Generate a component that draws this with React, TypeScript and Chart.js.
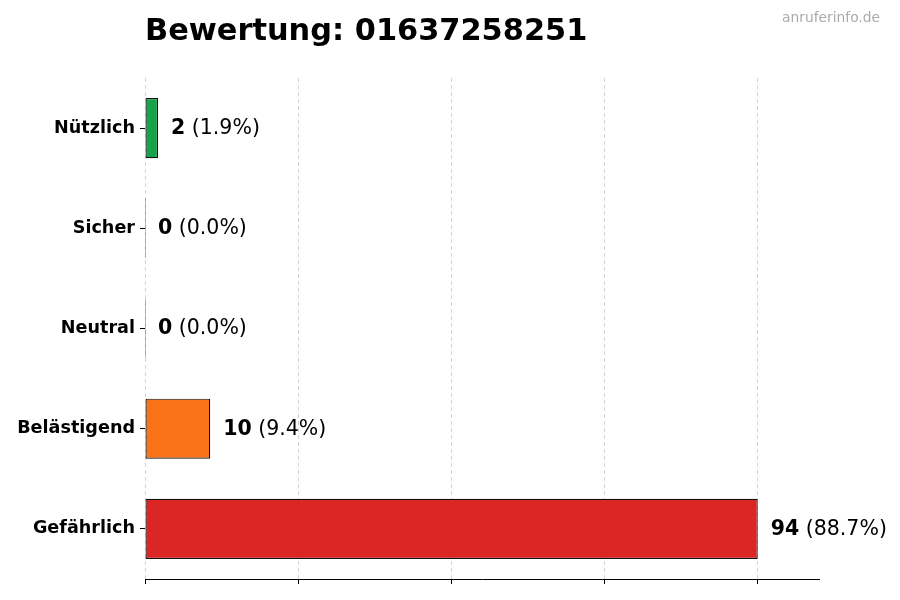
import React, { useEffect, useRef } from "react";
import { Chart, registerables } from "chart.js";

Chart.register(...registerables);

const CATEGORIES = ["Nützlich", "Sicher", "Neutral", "Belästigend", "Gefährlich"];
const COUNTS = [2, 0, 0, 10, 94];
const BAR_COLORS = ["#16a34a", "#222222", "#222222", "#f97316", "#dc2626"];
const X_TICKS = [0, 23.5, 47, 70.5, 94];
const X_MAX = 103.4;
const TITLE = "Bewertung: 01637258251";
const WATERMARK = "anruferinfo.de";

const FONT = "'DejaVu Sans', sans-serif";

export default function App() {
  const ref = useRef<HTMLCanvasElement | null>(null);

  useEffect(() => {
    document.body.style.margin = "0";
    const canvas = ref.current;
    if (!canvas) return;
    const total = COUNTS.reduce((a, b) => a + b, 0);

    const textPlugin = {
      id: "texts",
      afterDatasetsDraw(chart: any) {
        const ctx = chart.ctx;
        const meta = chart.getDatasetMeta(0);
        ctx.save();
        ctx.textBaseline = "middle";
        meta.data.forEach((bar: any, i: number) => {
          const v = COUNTS[i];
          const x = chart.scales.x.getPixelForValue(v) + 13;
          const y = bar.y + 0.5;
          ctx.fillStyle = "#000";
          ctx.font = `bold 20.5px ${FONT}`;
          const s1 = String(v);
          ctx.fillText(s1, x, y);
          const w = ctx.measureText(s1).width;
          ctx.font = `20.5px ${FONT}`;
          const pct = total ? (v / total) * 100 : 0;
          ctx.fillText(` (${pct.toFixed(1)}%)`, x + w, y);
        });
        ctx.restore();
      },
      afterDraw(chart: any) {
        const ctx = chart.ctx;
        ctx.save();
        ctx.textBaseline = "alphabetic";
        ctx.fillStyle = "#000";
        ctx.font = `bold 30.4px ${FONT}`;
        ctx.textAlign = "left";
        ctx.fillText(TITLE, 145, 40);
        ctx.fillStyle = "#aaaaaa";
        ctx.font = `13.8px ${FONT}`;
        ctx.textAlign = "right";
        ctx.fillText(WATERMARK, 880, 22);
        ctx.restore();
      },
    };

    const chart = new Chart(canvas, {
      type: "bar",
      data: {
        labels: CATEGORIES,
        datasets: [
          {
            data: COUNTS,
            backgroundColor: BAR_COLORS,
            borderColor: "#111",
            borderWidth: 1.2,
            borderSkipped: false,
            minBarLength: 1,
            barPercentage: 0.6,
            categoryPercentage: 1,
          },
        ],
      },
      options: {
        indexAxis: "y",
        responsive: false,
        animation: false,
        devicePixelRatio: 1,
        layout: { padding: { left: 0, top: 78, right: 81, bottom: 0 } },
        plugins: {
          legend: { display: false },
          tooltip: { enabled: false },
          title: { display: false },
        },
        scales: {
          x: {
            type: "linear",
            min: 0,
            max: X_MAX,
            afterBuildTicks: (scale: any) => {
              scale.ticks = X_TICKS.map((v) => ({ value: v }));
            },
            afterFit: (scale: any) => {
              scale.height = 21;
            },
            ticks: { callback: () => "", padding: 0 },
            grid: {
              color: "#d4d4d4",
              lineWidth: 1,
              drawTicks: true,
              tickLength: 5,
              tickColor: "#000",
              tickWidth: 1,
            },
            border: { display: true, color: "#000", width: 1, dash: [4, 3] },
          },
          y: {
            type: "category",
            offset: true,
            afterFit: (scale: any) => {
              scale.width = 145;
            },
            ticks: {
              color: "#000",
              padding: 5,
              font: { family: FONT, size: 17.6, weight: "bold" },
            },
            grid: {
              offset: false,
              drawOnChartArea: false,
              drawTicks: true,
              tickLength: 5,
              tickColor: "#000",
              color: "#000",
            },
            border: { display: false },
          },
        },
      },
      plugins: [textPlugin],
    } as any);

    return () => chart.destroy();
  }, []);

  return (
    <div style={{ position: "absolute", left: 0, top: 0, width: 900, height: 600, background: "#fff" }}>
      <canvas ref={ref} width={900} height={600} style={{ width: 900, height: 600 }} />
    </div>
  );
}
